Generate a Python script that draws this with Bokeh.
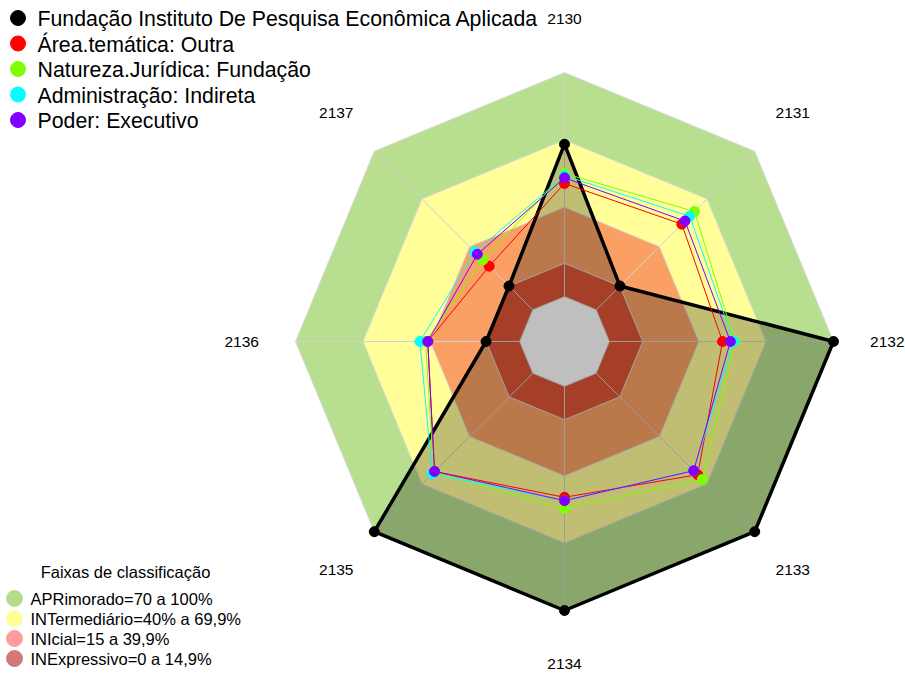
import math
from bokeh.plotting import figure
from bokeh.models import Range1d
from bokeh.core.properties import value
from bokeh.embed import file_html
from bokeh.resources import INLINE

# ---------------- data ----------------
categories = ["2130", "2131", "2132", "2133", "2134", "2135", "2136", "2137"]

series_names = [
    "Fundação Instituto De Pesquisa Econômica Aplicada",
    "Área.temática: Outra",
    "Natureza.Jurídica: Fundação",
    "Administração: Indireta",
    "Poder: Executivo",
]
fundacao = [68, 15, 100, 100, 100, 100, 15, 15]
area_outra = [50.5, 54, 50.5, 64, 49.5, 62, 41, 27.5]
natureza_fundacao = [55, 62, 56, 67, 54.5, 62.5, 42, 31.5]
adm_indireta = [54, 59, 55.5, 61.5, 51, 63.5, 44.5, 36.5]
poder_executivo = [53, 56, 54, 61.5, 51, 62, 41, 35]

band_labels = [
    "APRimorado=70 a 100%",
    "INTermediário=40% a 69,9%",
    "INIcial=15 a 39,9%",
    "INExpressivo=0 a 14,9%",
]
band_upper = [100, 69.9, 39.9, 14.9]
band_title = "Faixas de classificação"

# ---------------- styling ----------------
W, H = 905, 673
R = 269.0          # px for 100%
CX, CY = 564.0, 341.0  # centre in figure px
FONT = "Liberation Sans"

series_colors = ["#000000", "#FF0000", "#7FFF00", "#00FFFF", "#8000FF"]
band_fill = ["#B8DF8F", "#FFFE99", "#FAA065", "#DC5535"]
band_legend_colors = ["#B5DC8B", "#FFFF9A", "#FF9C9C", "#D27A7A"]


def px(x, y):
    """figure pixel (from top-left) -> data coords"""
    return (x - CX) / R, (CY - y) / R


def rad(v):
    return (20.0 + v) / 120.0


n = len(categories)
angles = [math.pi / 2 - i * 2 * math.pi / n for i in range(n)]


def poly(vals):
    xs = [rad(v) * math.cos(a) for v, a in zip(vals, angles)]
    ys = [rad(v) * math.sin(a) for v, a in zip(vals, angles)]
    return xs, ys


p = figure(width=W, height=H, output_backend="svg", toolbar_location=None,
           x_range=Range1d(-CX / R, (W - CX) / R),
           y_range=Range1d(-(H - CY) / R, CY / R),
           min_border=0)
p.axis.visible = False
p.grid.visible = False
p.outline_line_color = None
p.background_fill_color = "white"
p.border_fill_color = "white"

# bands
for up, col in zip(band_upper, band_fill):
    xs, ys = poly([up] * n)
    p.patch(xs, ys, fill_color=col, line_color="#DADADA", line_width=1)
xs, ys = poly([0] * n)
p.patch(xs, ys, fill_color="white", line_color="#DADADA", line_width=1)

# spokes
for a in angles:
    p.line([rad(0) * math.cos(a), math.cos(a)], [rad(0) * math.sin(a), math.sin(a)],
           line_color="#D0D0D0", line_width=1)

# series
all_series = [fundacao, area_outra, natureza_fundacao, adm_indireta, poder_executivo]
for k, (vals, col) in enumerate(zip(all_series, series_colors)):
    xs, ys = poly(vals)
    if k == 0:
        p.patch(xs, ys, fill_color="black", fill_alpha=0.25,
                line_color="black", line_width=3.5)
        p.scatter(xs, ys, size=10, color="black")
    else:
        p.line(xs + xs[:1], ys + ys[:1], line_color=col, line_width=1)
        p.scatter(xs, ys, size=10, color=col)

# axis labels
lx = [1.2 * math.cos(a) for a in angles]
ly = [1.2 * math.sin(a) for a in angles]
p.text(lx, ly, text=categories, text_font=value(FONT), text_font_size="15.5px",
       text_align="center", text_baseline="middle", text_color="black")

# top legend
leg_x_dot, leg_x_txt, leg_y0, leg_dy = 17.5, 37, 17.5, 25.5
dxs, dys, txs, tys = [], [], [], []
for i in range(len(series_names)):
    x1, y1 = px(leg_x_dot, leg_y0 + i * leg_dy)
    x2, y2 = px(leg_x_txt, leg_y0 + 1 + i * leg_dy)
    dxs.append(x1); dys.append(y1); txs.append(x2); tys.append(y2)
p.scatter(dxs, dys, size=15, color=series_colors)
p.text(txs, tys, text=series_names, text_font=value(FONT), text_font_size="21.3px",
       text_align="left", text_baseline="middle", text_color="black")

# bottom legend
tx, ty = px(125, 571)
p.text([tx], [ty], text=[band_title], text_font=value(FONT), text_font_size="16.5px",
       text_align="center", text_baseline="middle", text_color="black")
bx, btx, by0, bdy = 14, 30, 598, 20
dxs, dys, txs, tys = [], [], [], []
for i in range(len(band_labels)):
    x1, y1 = px(bx, by0 + i * bdy)
    x2, y2 = px(btx, by0 + i * bdy)
    dxs.append(x1); dys.append(y1); txs.append(x2); tys.append(y2)
p.scatter(dxs, dys, size=16, fill_color=band_legend_colors, line_color=band_legend_colors)
p.text(txs, tys, text=band_labels, text_font=value(FONT), text_font_size="16.5px",
       text_align="left", text_baseline="middle", text_color="black")

open("out.html", "w").write(file_html(p, INLINE))
